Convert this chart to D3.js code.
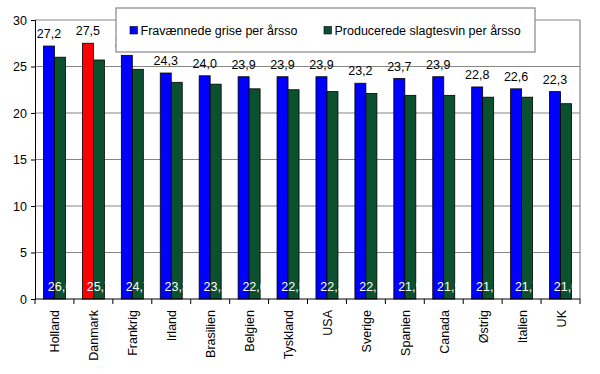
<!DOCTYPE html>
<html><head><meta charset="utf-8">
<script src="https://cdn.jsdelivr.net/npm/d3@7"></script>
<style>body{margin:0;background:#fff}svg{display:block;font-family:"Liberation Sans",Arial,sans-serif}</style>
</head><body>
<svg id="c" width="600" height="374"></svg>
<script>
const categories = ["Holland","Danmark","Frankrig","Irland","Brasilien","Belgien","Tyskland","USA","Sverige","Spanien","Canada","Østrig","Italien","UK"];
const fravaennede = [27.2,27.5,26.2,24.3,24.0,23.9,23.9,23.9,23.2,23.7,23.9,22.8,22.6,22.3];
const producerede = [26.0,25.7,24.7,23.3,23.1,22.6,22.5,22.3,22.1,21.9,21.9,21.7,21.7,21.0];
const seriesNames = ["Fravænnede grise per årsso","Producerede slagtesvin per årsso"];
const yTicks = [0,5,10,15,20,25,30];
const highlight = "Danmark";

const FONT = "Liberation Sans, Arial, sans-serif";
const FS = 12.5;
const svg = d3.select("#c");
const L = 35, R = 580, T = 20, B = 299;
const x = d3.scaleBand().domain(categories).range([L, R]).padding(0);
const y = d3.scaleLinear().domain([0, 30]).range([B, T]);
const bw = 11;
const fmt = v => v.toFixed(1).replace(".", ",");

// gridlines
svg.append("g").selectAll("line").data(yTicks.filter(d => d > 0)).join("line")
  .attr("x1", L).attr("x2", R).attr("y1", d => y(d)).attr("y2", d => y(d))
  .attr("stroke", "#868686").attr("stroke-width", 1.2);
// right border
svg.append("line").attr("x1", R).attr("x2", R).attr("y1", T).attr("y2", B).attr("stroke", "#868686").attr("stroke-width", 1.2);

const g = svg.append("g").attr("font-family", FONT);
categories.forEach((c, i) => {
  const cx = x(c) + x.bandwidth() / 2;
  g.append("rect").attr("x", cx - bw).attr("y", y(fravaennede[i])).attr("width", bw)
    .attr("height", y(0) - y(fravaennede[i]))
    .attr("fill", c === highlight ? "#ff0000" : "#0000ff").attr("stroke", "#000").attr("stroke-width", 0.8);
  g.append("rect").attr("x", cx).attr("y", y(producerede[i])).attr("width", bw)
    .attr("height", y(0) - y(producerede[i]))
    .attr("fill", "#0b5130").attr("stroke", "#000").attr("stroke-width", 0.8);
  g.append("text").attr("x", cx - bw / 2).attr("y", y(fravaennede[i]) - 8)
    .attr("text-anchor", "middle").attr("font-size", FS).attr("fill", "#000").text(fmt(fravaennede[i]));
  g.append("text").attr("x", cx + bw / 2).attr("y", 290.5)
    .attr("text-anchor", "middle").attr("font-size", FS).attr("fill", "#fff").text(fmt(producerede[i]));
});

// y axis
const ya = svg.append("g").attr("transform", `translate(${L},0)`)
  .call(d3.axisLeft(y).tickValues(yTicks).tickSize(4).tickPadding(4).tickFormat(d => d));
ya.select(".domain").attr("stroke", "#000");
ya.selectAll(".tick line").attr("stroke", "#000");
ya.selectAll("text").attr("font-size", FS).attr("font-family", FONT).attr("fill", "#000");

// x axis
const xa = svg.append("g").attr("transform", `translate(0,${B})`).attr("font-family", FONT);
xa.append("line").attr("x1", L).attr("x2", R).attr("stroke", "#000");
const bounds = categories.map(c => x(c)).concat([R]);
xa.selectAll(".tk").data(bounds).join("line").attr("x1", d => d).attr("x2", d => d).attr("y1", 0).attr("y2", 5).attr("stroke", "#000");
xa.selectAll(".lbl").data(categories).join("text")
  .attr("transform", d => `translate(${x(d) + x.bandwidth() / 2 + 5},11) rotate(-90)`)
  .attr("text-anchor", "end").attr("font-size", FS).attr("fill", "#000").text(d => d);

// legend
const lg = svg.append("g").attr("font-family", FONT);
lg.append("rect").attr("x", 116).attr("y", 8).attr("width", 419).attr("height", 44)
  .attr("fill", "#fff").attr("stroke", "#868686").attr("stroke-width", 1.2);
const lx = [130, 324], lc = ["#0000ff", "#0b5130"];
seriesNames.forEach((s, i) => {
  lg.append("rect").attr("x", lx[i]).attr("y", 26.5).attr("width", 7.5).attr("height", 7.5)
    .attr("fill", lc[i]).attr("stroke", "#000").attr("stroke-width", 0.6);
  lg.append("text").attr("x", lx[i] + 10.5).attr("y", 35).attr("font-size", FS).attr("fill", "#000").text(s);
});
</script>
</body></html>
